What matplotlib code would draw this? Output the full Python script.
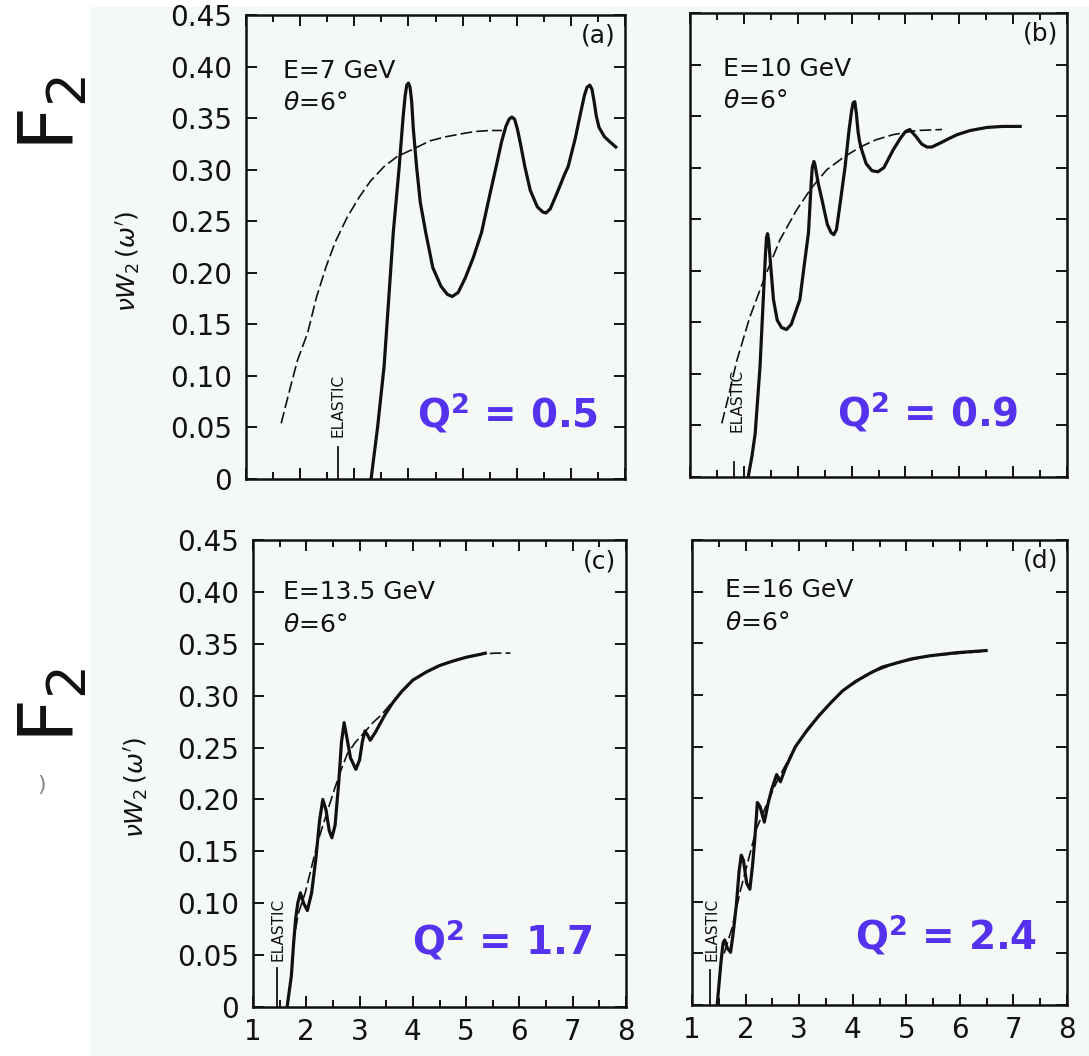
"""Four-panel nuW2(omega') resonance / scaling plot (SLAC style scan)."""

import matplotlib.pyplot as plt
from matplotlib.patches import Rectangle
from matplotlib.ticker import MultipleLocator, FuncFormatter

W_PX, H_PX = 1089, 1056
BG    = "#f5f9f6"
INK   = "#111111"
QBLUE = "#5533ee"

# ── Data ─────────────────────────────────────────────────────────────────────
# (a) E = 7 GeV
a_solid_x = [3.31, 3.43, 3.55, 3.63, 3.72, 3.83, 3.90, 3.94, 3.97, 4.00, 4.03, 4.06,
             4.09, 4.15, 4.22, 4.32, 4.45, 4.60, 4.72, 4.81, 4.92, 5.05, 5.20, 5.35,
             5.50, 5.62, 5.72, 5.80, 5.86, 5.91, 5.96, 6.01, 6.07, 6.15, 6.25, 6.38,
             6.48, 6.54, 6.62, 6.75, 6.88, 6.95, 7.08, 7.18, 7.25, 7.30, 7.35, 7.39,
             7.43, 7.47, 7.52, 7.62, 7.72, 7.83]
a_solid_y = [0.000, 0.050, 0.109, 0.170, 0.239, 0.303, 0.350, 0.372, 0.382, 0.384, 0.380, 0.366,
             0.340, 0.303, 0.268, 0.239, 0.205, 0.187, 0.179, 0.177, 0.181, 0.195, 0.215, 0.239,
             0.275, 0.303, 0.327, 0.342, 0.349, 0.351, 0.349, 0.340, 0.325, 0.303, 0.280, 0.264,
             0.259, 0.258, 0.262, 0.278, 0.295, 0.303, 0.330, 0.355, 0.372, 0.380, 0.382, 0.378,
             0.366, 0.352, 0.341, 0.332, 0.327, 0.322]
a_dash_x = [1.65, 1.80, 1.95, 2.14, 2.30, 2.48, 2.65, 2.87, 3.10, 3.30, 3.55, 3.80,
            4.09, 4.40, 4.70, 5.00, 5.23, 5.50, 5.73]
a_dash_y = [0.054, 0.085, 0.115, 0.142, 0.176, 0.206, 0.230, 0.254, 0.274, 0.289, 0.303, 0.313,
            0.320, 0.328, 0.332, 0.335, 0.337, 0.338, 0.338]

# (b) E = 10 GeV
b_solid_x = [2.08, 2.15, 2.21, 2.30, 2.36, 2.40, 2.42, 2.44, 2.46, 2.49, 2.55, 2.62,
             2.70, 2.79, 2.88, 2.96, 3.04, 3.12, 3.20, 3.25, 3.27, 3.30, 3.32, 3.35,
             3.38, 3.45, 3.55, 3.62, 3.67, 3.72, 3.80, 3.88, 3.95, 4.00, 4.03, 4.06,
             4.09, 4.12, 4.15, 4.19, 4.27, 4.38, 4.49, 4.60, 4.70, 4.77, 4.90, 5.00,
             5.08, 5.20, 5.30, 5.40, 5.49, 5.65, 5.80, 5.96, 6.20, 6.51, 6.80, 7.13]
b_solid_y = [0.000, 0.020, 0.042, 0.107, 0.172, 0.215, 0.232, 0.236, 0.230, 0.210, 0.172, 0.152,
             0.145, 0.143, 0.148, 0.160, 0.172, 0.205, 0.237, 0.285, 0.300, 0.306, 0.303, 0.294,
             0.285, 0.269, 0.245, 0.237, 0.235, 0.240, 0.270, 0.301, 0.335, 0.355, 0.363, 0.364,
             0.352, 0.335, 0.325, 0.317, 0.304, 0.297, 0.296, 0.300, 0.310, 0.317, 0.328, 0.335,
             0.337, 0.330, 0.323, 0.320, 0.320, 0.324, 0.328, 0.332, 0.336, 0.339, 0.340, 0.340]
b_dash_x = [1.59, 1.70, 1.87, 2.11, 2.39, 2.67, 2.98, 3.25, 3.54, 3.85, 4.16, 4.45,
            4.77, 5.20, 5.68]
b_dash_y = [0.052, 0.075, 0.113, 0.155, 0.194, 0.230, 0.259, 0.280, 0.298, 0.310, 0.320, 0.327,
            0.332, 0.336, 0.337]

# (c) E = 13.5 GeV
c_solid_x = [1.64, 1.72, 1.76, 1.80, 1.84, 1.89, 1.95, 2.02, 2.10, 2.18, 2.25, 2.31,
             2.37, 2.43, 2.48, 2.54, 2.61, 2.66, 2.71, 2.76, 2.83, 2.93, 3.00, 3.05,
             3.10, 3.15, 3.20, 3.30, 3.47, 3.62, 3.79, 4.00, 4.26, 4.50, 4.73, 5.00,
             5.28, 5.36]
c_solid_y = [0.000, 0.030, 0.060, 0.085, 0.100, 0.110, 0.100, 0.093, 0.110, 0.143, 0.180, 0.200,
             0.190, 0.170, 0.163, 0.175, 0.217, 0.255, 0.274, 0.260, 0.240, 0.229, 0.238, 0.255,
             0.266, 0.262, 0.257, 0.265, 0.281, 0.293, 0.304, 0.315, 0.323, 0.329, 0.333, 0.337,
             0.340, 0.341]
c_dash_x = [1.75, 1.85, 1.98, 2.10, 2.22, 2.38, 2.53, 2.65, 2.77, 2.92, 3.08, 3.25,
            3.40, 3.60, 3.79, 4.00, 4.26, 4.50, 4.73, 5.00, 5.28, 5.55, 5.83]
c_dash_y = [0.060, 0.090, 0.110, 0.135, 0.160, 0.186, 0.210, 0.228, 0.244, 0.255, 0.264, 0.274,
            0.281, 0.293, 0.304, 0.315, 0.323, 0.329, 0.333, 0.337, 0.340, 0.341, 0.341]

# (d) E = 16 GeV
d_solid_x = [1.47, 1.54, 1.58, 1.61, 1.66, 1.72, 1.77, 1.83, 1.88, 1.92, 1.96, 2.02,
             2.08, 2.13, 2.17, 2.22, 2.27, 2.35, 2.42, 2.49, 2.58, 2.65, 2.75, 2.93,
             3.15, 3.37, 3.60, 3.81, 4.05, 4.32, 4.55, 4.82, 5.10, 5.45, 5.95, 6.49]
d_solid_y = [0.000, 0.041, 0.060, 0.063, 0.055, 0.051, 0.070, 0.098, 0.130, 0.145, 0.140, 0.118,
             0.112, 0.135, 0.159, 0.196, 0.192, 0.177, 0.195, 0.209, 0.223, 0.216, 0.230, 0.250,
             0.266, 0.280, 0.293, 0.304, 0.313, 0.321, 0.327, 0.331, 0.335, 0.338, 0.341, 0.343]
d_dash_x = [1.60, 1.75, 1.90, 2.05, 2.20, 2.40, 2.60, 2.93, 3.37, 3.81, 4.32, 4.82, 5.45, 6.40]
d_dash_y = [0.050, 0.075, 0.110, 0.140, 0.170, 0.195, 0.218, 0.250, 0.280, 0.304, 0.321, 0.331,
            0.338, 0.342]

panel_tags  = ["(a)", "(b)", "(c)", "(d)"]
beam_labels = ["E=7 GeV", "E=10 GeV", "E=13.5 GeV", "E=16 GeV"]
q2_labels   = ["0.5", "0.9", "1.7", "2.4"]
elastic_x   = [2.70, 1.82, 1.45, 1.34]      # position of the elastic peak marker
elastic_top = [0.031, 0.015, 0.038, 0.034]

y_ticks = [0.0, 0.05, 0.10, 0.15, 0.20, 0.25, 0.30, 0.35, 0.40, 0.45]
x_ticks = [1, 2, 3, 4, 5, 6, 7, 8]

# ── Layout (pixel boxes: left, top, right, bottom) ───────────────────────────
BOXES = [(246, 15, 625, 479), (690, 13, 1067, 477),
         (253, 540, 626, 1007), (692, 540, 1067, 1005)]
ELASTIC_TXT_Y = [0.071, 0.074, 0.075, 0.073]
ELASTIC_TXT_DX = [0.0, 0.05, 0.02, 0.03]
Q_POS = [(0.93, 0.142), (0.87, 0.14), (0.91, 0.143), (0.92, 0.15)]
E_POS = [(0.098, 0.88), (0.088, 0.88), (0.08, 0.889), (0.088, 0.892)]


def px_rect(box):
    l, t, r, b = box
    return [l / W_PX, 1 - b / H_PX, (r - l) / W_PX, (b - t) / H_PX]


def main():
    fig = plt.figure(figsize=(W_PX / 100, H_PX / 100), dpi=100)
    fig.patch.set_facecolor("white")
    fig.patches.append(Rectangle((90 / W_PX, 0), 1 - 90 / W_PX, 1 - 7 / H_PX,
                                 transform=fig.transFigure, facecolor=BG,
                                 edgecolor="none", zorder=-10))

    series = [(a_solid_x, a_solid_y, a_dash_x, a_dash_y),
              (b_solid_x, b_solid_y, b_dash_x, b_dash_y),
              (c_solid_x, c_solid_y, c_dash_x, c_dash_y),
              (d_solid_x, d_solid_y, d_dash_x, d_dash_y)]

    yfmt = FuncFormatter(lambda v, _: "0" if abs(v) < 1e-9 else f"{v:.2f}")

    for i, box in enumerate(BOXES):
        ax = fig.add_axes(px_rect(box))
        ax.set_facecolor(BG)
        sx, sy, dx, dy = series[i]

        ax.plot(dx, dy, color=INK, lw=1.2, dashes=(7, 2.5))
        ax.plot(sx, sy, color=INK, lw=2.3, solid_joinstyle="round")

        # elastic marker
        ex = elastic_x[i]
        ax.plot([ex, ex], [0, elastic_top[i]], color=INK, lw=1.3)
        ax.text(ex + ELASTIC_TXT_DX[i], ELASTIC_TXT_Y[i], "ELASTIC", rotation=90,
                ha="center", va="center", fontsize=11, color=INK)

        ax.set_xlim(1, 8)
        ax.set_ylim(0, 0.45)
        ax.set_yticks(y_ticks)
        ax.set_xticks(x_ticks)
        ax.xaxis.set_minor_locator(MultipleLocator(0.5))
        ax.yaxis.set_major_formatter(yfmt)
        ax.tick_params(which="both", direction="in", top=True, right=True,
                       width=1.4, colors=INK, labelsize=20)
        ax.tick_params(axis="y", which="major", length=8, pad=10)
        ax.tick_params(axis="x", which="major", length=8, pad=8)
        ax.tick_params(axis="x", which="minor", length=5)
        for sp in ax.spines.values():
            sp.set_linewidth(1.8)
            sp.set_color(INK)

        if i % 2 == 1:
            ax.tick_params(axis="y", labelleft=False)
        else:
            ax.text(-0.31, 0.47, r"$\nu W_2\,(\omega')$", transform=ax.transAxes,
                    rotation=90, ha="center", va="center", fontsize=18, color=INK)
        if i < 2:
            ax.tick_params(axis="x", labelbottom=False)

        ex_, ey_ = E_POS[i]
        ax.text(ex_, ey_, beam_labels[i], transform=ax.transAxes,
                ha="left", va="center", fontsize=18, color=INK)
        ax.text(ex_, ey_ - 0.07, r"$\theta$=6°", transform=ax.transAxes,
                ha="left", va="center", fontsize=18, color=INK)
        ax.text(0.93, 0.955, panel_tags[i], transform=ax.transAxes,
                ha="center", va="center", fontsize=18, color=INK)

        qx, qy = Q_POS[i]
        ax.text(qx, qy, r"Q$^{\mathbf{2}}$ = " + q2_labels[i], transform=ax.transAxes,
                ha="right", va="center", fontsize=28, fontweight="bold", color=QBLUE)

    for yc in (113, 705):
        fig.text(53 / W_PX, 1 - yc / H_PX, r"F$_2$", rotation=90,
                 ha="center", va="center", fontsize=55, color=INK)
    fig.text(42 / W_PX, 1 - 785 / H_PX, ")", fontsize=16, color="#888888",
             ha="center", va="center")

    fig.savefig("out.png", dpi=100, facecolor="white")
    plt.close(fig)


if __name__ == "__main__":
    main()
